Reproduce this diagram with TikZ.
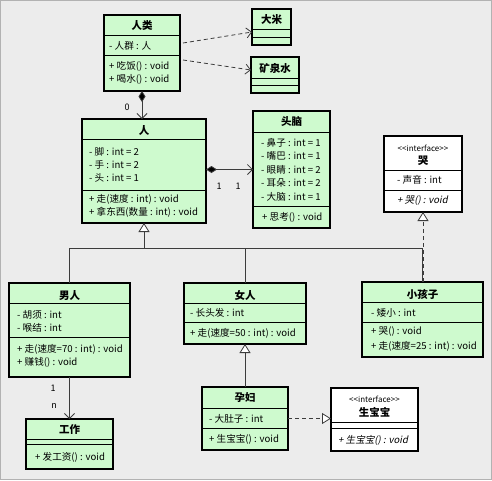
\documentclass[tikz,border=0pt]{standalone}
\usepackage{fontspec}
\setmainfont{Noto Sans CJK SC}
\newfontfamily\slfont[FakeSlant=0.2]{Noto Sans CJK SC}
\usetikzlibrary{arrows.meta,calc}
\definecolor{bgc}{RGB}{236,236,236}
\definecolor{clsc}{RGB}{206,250,206}
\definecolor{connc}{RGB}{60,60,60}
\tikzset{
 box/.style={draw=black, line width=1.3pt, rectangle, inner sep=0pt, outer sep=0pt},
 sepl/.style={draw=black, line width=0.9pt},
 ttl/.style={font=\fontsize{10.5}{11}\selectfont\bfseries, inner sep=0pt},
 stereo/.style={font=\fontsize{8}{9}\selectfont, inner sep=0pt},
 txt/.style={font=\fontsize{9.6}{11}\selectfont, inner sep=0pt, anchor=west},
 itxt/.style={font=\fontsize{9.6}{11}\selectfont\slfont, inner sep=0pt, anchor=west},
 mult/.style={font=\fontsize{9}{10}\selectfont, inner sep=0pt},
 conn/.style={draw=connc, line width=0.8pt},
 dep/.style={conn, dash pattern=on 4pt off 3pt, -{Straight Barb[length=5pt,width=10pt]}},
 assoc/.style={conn, -{Straight Barb[length=5pt,width=10pt]}},
 comp/.style={conn, {Diamond[length=11pt,width=7pt,fill=black]}-{Straight Barb[length=5pt,width=10pt]}},
 gen/.style={conn, -{Triangle[open,length=9pt,width=11pt,fill=white]}},
 real/.style={conn, dash pattern=on 4pt off 3pt, -{Triangle[open,length=9pt,width=11pt,fill=white]}},
}
\newcommand\umlbox[6]{%
 \node[box, fill=#6, minimum width={(#4-#2)*1pt}, minimum height={(#5-#3)*1pt}] (#1) at ({(#2+#4)/2},{(#3+#5)/2}) {};}
\newcommand\sepat[2]{\draw[sepl] (#1.west |- 0,#2) -- (#1.east |- 0,#2);}
\begin{document}
\begin{tikzpicture}[x=1pt,y=-1pt]
\fill[bgc] (0,0) rectangle (492,480);
\useasboundingbox (0,0) rectangle (492,480);
\draw[gray!60, line width=0.8pt] (0.4,0.4) rectangle (491.6,479.6);

% 人类
\umlbox{renlei}{104}{15}{180}{91}{clsc}
\sepat{renlei}{35}\sepat{renlei}{55}
\node[ttl] (renlei-t) at (142,26) {人类};
\node[txt] (renlei-a1) at (109,46) {- 人群 : 人};
\node[txt] (renlei-m1) at (109,66) {+ 吃饭() : void};
\node[txt] (renlei-m2) at (109,79) {+ 喝水() : void};

% 大米
\umlbox{dami}{252}{9}{291}{45}{clsc}
\sepat{dami}{29}\sepat{dami}{37}
\node[ttl] (dami-t) at (271.5,20) {大米};

% 矿泉水
\umlbox{kqs}{251}{57}{299}{93}{clsc}
\sepat{kqs}{78}\sepat{kqs}{85}
\node[ttl] (kqs-t) at (275,68) {矿泉水};

% 人
\umlbox{ren}{82}{119}{206}{223}{clsc}
\sepat{ren}{139}\sepat{ren}{190}
\node[ttl] (ren-t) at (144,130) {人};
\node[txt] (ren-a1) at (89,152) {- 脚 : int = 2};
\node[txt] (ren-a2) at (89,165) {- 手 : int = 2};
\node[txt] (ren-a3) at (89,178) {- 头 : int = 1};
\node[txt] (ren-m1) at (89,199) {+ 走(速度 : int) : void};
\node[txt] (ren-m2) at (89,212) {+ 拿东西(数量 : int) : void};

% 头脑
\umlbox{tounao}{253}{111}{330}{228}{clsc}
\sepat{tounao}{132}\sepat{tounao}{206}
\node[ttl] (tounao-t) at (291.5,122) {头脑};
\node[txt] (tounao-a1) at (261,143) {- 鼻子 : int = 1};
\node[txt] (tounao-a2) at (261,156) {- 嘴巴 : int = 1};
\node[txt] (tounao-a3) at (261,170) {- 眼睛 : int = 2};
\node[txt] (tounao-a4) at (261,183) {- 耳朵 : int = 2};
\node[txt] (tounao-a5) at (261,197) {- 大脑 : int = 1};
\node[txt] (tounao-m1) at (262,217) {+ 思考() : void};

% 哭
\umlbox{ku}{384}{136}{462}{212}{white}
\sepat{ku}{170}\sepat{ku}{190}
\node[stereo] (ku-s) at (423,148) {<{}<interface>{}>};
\node[ttl] (ku-t) at (423,161) {哭};
\node[txt] (ku-a1) at (397,180) {- 声音 : int};
\node[itxt] (ku-m1) at (397,201) {+ 哭() : void};

% 男人
\umlbox{nanren}{9}{283}{130}{377}{clsc}
\sepat{nanren}{303}\sepat{nanren}{337}
\node[ttl] (nanren-t) at (69.5,295) {男人};
\node[txt] (nanren-a1) at (17,315) {- 胡须 : int};
\node[txt] (nanren-a2) at (17,328) {- 喉结 : int};
\node[txt] (nanren-m1) at (17,349) {+ 走(速度=70 : int) : void};
\node[txt] (nanren-m2) at (17,362) {+ 赚钱() : void};

% 女人
\umlbox{nvren}{184}{283}{306}{344}{clsc}
\sepat{nvren}{303}\sepat{nvren}{322}
\node[ttl] (nvren-t) at (245,295) {女人};
\node[txt] (nvren-a1) at (190,313) {- 长头发 : int};
\node[txt] (nvren-m1) at (190,333) {+ 走(速度=50 : int) : void};

% 小孩子
\umlbox{xhz}{362}{282}{483}{357}{clsc}
\sepat{xhz}{302}\sepat{xhz}{322}
\node[ttl] (xhz-t) at (422.5,294) {小孩子};
\node[txt] (xhz-a1) at (371,313) {- 矮小 : int};
\node[txt] (xhz-m1) at (371,332) {+ 哭() : void};
\node[txt] (xhz-m2) at (371,346) {+ 走(速度=25 : int) : void};

% 孕妇
\umlbox{yunfu}{202}{387}{288}{450}{clsc}
\sepat{yunfu}{408}\sepat{yunfu}{428}
\node[ttl] (yunfu-t) at (245,398) {孕妇};
\node[txt] (yunfu-a1) at (209,419) {- 大肚子 : int};
\node[txt] (yunfu-m1) at (209,439) {+ 生宝宝() : void};

% 生宝宝
\umlbox{ssb}{331}{388}{418}{451}{white}
\sepat{ssb}{422}\sepat{ssb}{428}
\node[stereo] (ssb-s) at (374.5,399) {<{}<interface>{}>};
\node[ttl] (ssb-t) at (374.5,412) {生宝宝};
\node[itxt] (ssb-m1) at (338,440) {+ 生宝宝() : void};

% 工作
\umlbox{gongzuo}{26}{419}{113}{469}{clsc}
\sepat{gongzuo}{439}\sepat{gongzuo}{444}
\node[ttl] (gongzuo-t) at (69.5,430) {工作};
\node[txt] (gongzuo-m1) at (35,457) {+ 发工资() : void};

% connectors
\draw[dep] ($(renlei.east)+(3,-10)$) -- ($(dami.west)+(0,5)$);
\draw[dep] ($(renlei.east)+(3,7)$) -- ($(kqs.west)+(0,-5)$);
\draw[comp] (renlei.south) -- (renlei.south |- ren.north);
\node[mult] (m0) at (127,107) {0};
\draw[comp] (ren.east |- tounao.west) -- (tounao.west);
\node[mult] (m1a) at (219,186) {1};
\node[mult] (m1b) at (238,186) {1};

\coordinate (j) at (ren.south |- 0,248);
\draw[conn] (nanren.north) |- (j);
\draw[conn] (nvren.north) -- (nvren.north |- j);
\draw[conn] (xhz.north) |- (j);
\draw[gen] (j) -- (ren.south);
\draw[real] (ku.south |- xhz.north) -- (ku.south);
\draw[gen] (yunfu.north) -- (nvren.south);
\draw[real] (yunfu.east) -- (yunfu.east -| ssb.west);
\draw[assoc] (nanren.south) -- (gongzuo.north);
\node[mult] (mn1) at (53,388) {1};
\node[mult] (mnn) at (54,406) {n};
\end{tikzpicture}
\end{document}
